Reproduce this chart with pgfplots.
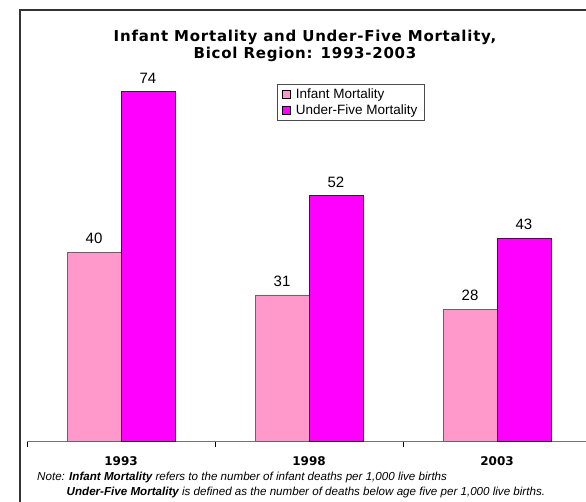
\documentclass[border=0pt]{standalone}
\usepackage{pgfplots}
\pgfplotsset{compat=1.18}
\usepackage{fontspec}
\setmainfont{Liberation Sans}
\newfontfamily\dv{DejaVu Sans}
\newfontfamily\dvtitle{DejaVu Sans}[LetterSpace=5]
\definecolor{pinkbar}{HTML}{FF99CC}
\definecolor{magbar}{HTML}{FF00FF}
\begin{document}
\begin{tikzpicture}[x=1pt,y=1pt]
\useasboundingbox (0,0) rectangle (586,501);
\fill[white] (0,0) rectangle (586,501);
\draw[line width=1.4pt, black!80] (20,-10) -- (20,491) -- (600,491);
\begin{axis}[
  at={(27pt,59.5pt)}, anchor=south west,
  scale only axis, width=564pt, height=378.2pt,
  xmin=-0.5, xmax=2.5, ymin=0, ymax=80,
  axis x line=bottom, axis y line=none,
  axis line style={-, black!55, line width=1.2pt},
  ybar=0pt, bar width=0.287,
  xtick={0,1,2}, xticklabels={1993,1998,2003},
  major tick length=0pt,
  minor xtick={-0.5,0.5,1.5,2.5}, minor tick length=5pt,
  tick align=outside,
  minor tick style={black, line width=0.9pt},
  xticklabel style={font=\dv\bfseries\fontsize{12}{12}\selectfont, anchor=center, yshift=-19.5pt},
  clip=false,
  nodes near coords,
  nodes near coords style={font=\fontsize{15}{15}\selectfont, anchor=south, inner sep=0pt, yshift=8pt, text=black,
    /pgf/number format/assume math mode=true},
  legend style={at={(axis description cs:0.443,0.945)}, anchor=north west, draw=black!70, line width=0.8pt,
    font=\fontsize{13.5}{14}\selectfont, inner xsep=5pt, inner ysep=2.5pt, row sep=0pt,
    /tikz/every odd column/.append style={column sep=3pt}},
  legend cell align=left,
]
\addplot[fill=pinkbar, draw=black!60, line width=0.8pt,
  legend image code/.code={\draw[fill=pinkbar, draw=black, line width=0.6pt] (0pt,-4pt) rectangle (8pt,4pt);}]
  coordinates {(0,40) (1,31) (2,28)};
\addplot[fill=magbar, draw=black!85, line width=0.8pt,
  legend image code/.code={\draw[fill=magbar, draw=black, line width=0.6pt] (0pt,-4pt) rectangle (8pt,4pt);}]
  coordinates {(0,74) (1,52) (2,43)};
\legend{Infant Mortality, Under-Five Mortality}
\end{axis}
\node[font=\dvtitle\bfseries\fontsize{15}{16.5}\selectfont, align=center] at (305,455) {Infant Mortality and Under-Five Mortality,\\Bicol Region: 1993-2003};
\node[anchor=base west, inner sep=0pt, font=\fontsize{11.6}{12}\selectfont\itshape] at (37,20.5) {Note: \textbf{Infant Mortality} refers to the number of infant deaths per 1,000 live births};
\node[anchor=base west, inner sep=0pt, font=\fontsize{11.6}{12}\selectfont\itshape] at (66.5,5.5) {\textbf{Under-Five Mortality} is defined as the number of deaths below age five per 1,000 live births.};
\end{tikzpicture}
\end{document}
